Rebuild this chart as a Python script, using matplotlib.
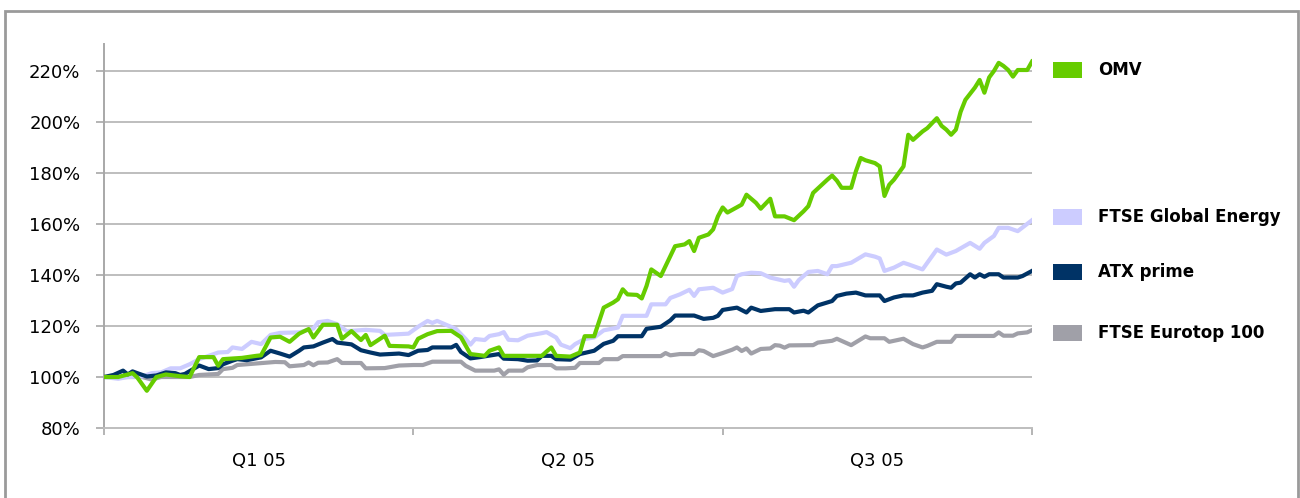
import matplotlib
matplotlib.use("Agg")
import matplotlib.pyplot as plt
from matplotlib.patches import Rectangle
from matplotlib.ticker import FuncFormatter, FixedLocator

# ---- data (trading-day index, value in % of start) ----
series_names = ["OMV", "FTSE Global Energy", "ATX prime", "FTSE Eurotop 100"]
series_colors = ["#66CC00", "#CCCCFF", "#003366", "#A0A0A8"]

omv_x = [0, 3, 6, 7, 9, 11, 13, 16, 18, 20, 23, 24, 25, 29, 32, 33, 35, 37, 39, 41,
         43, 44, 46, 49, 50, 52, 54, 55, 56, 59, 60, 64, 65, 66, 68, 70, 73, 75, 77, 80,
         81, 83, 84, 92, 93, 94, 95, 98, 100, 101, 103, 105, 107, 108, 109, 110, 112, 113, 114, 115,
         116, 117, 118, 120, 122, 123, 124, 125, 127, 128, 129, 130, 131, 134, 135, 137, 138, 140, 141, 143,
         145, 147, 148, 149, 152, 153, 154, 155, 157, 158, 159, 160, 162, 163, 164, 165, 166, 167, 168, 169,
         170, 172, 173, 175, 176, 177, 178, 179, 180, 181, 183, 184, 185, 186, 187, 188, 189, 190, 191, 192,
         194, 195]
omv_y = [100, 100, 101.5, 99.8, 94.6, 100, 101, 100.3, 100, 107.8, 107.8, 104.4, 107, 107.5, 108.3, 108.5, 115.5, 115.8, 113.8, 117,
         118.8, 115.5, 120.5, 120.5, 115, 118, 114.5, 116.5, 112.5, 116.2, 112.2, 112, 111.6, 115, 116.8, 118, 118.1, 115.6, 109, 108.3,
         110.3, 111.6, 108.3, 108.3, 110, 111.6, 108.3, 108, 109.6, 116, 116, 127.2, 129.2, 130.5, 134.4, 132.4, 132.2, 130.8, 135.7, 142.2,
         140.9, 139.6, 143.5, 151.3, 152, 153.3, 149.4, 154.6, 155.9, 157.9, 163, 166.5, 164.5, 167.6, 171.5, 168.3, 166, 169.9, 163, 163,
         161.5, 165, 167, 172.2, 177.4, 179, 177, 174.2, 174.2, 180.7, 185.9, 185, 183.9, 182.6, 171, 175.4, 177.4, 180, 182.6, 195,
         193, 196.3, 197.6, 201.5, 198.5, 197, 195, 197, 204, 208.7, 213.5, 216.5, 211.5, 217.5, 220, 223.2, 222, 220.4, 217.8, 220.4,
         220.4, 223.7]

fge_x = [0, 3, 5, 8, 10, 12, 14, 16, 18, 20, 22, 24, 26, 27, 29, 31, 33, 35, 37, 41,
         44, 45, 47, 49, 51, 55, 58, 59, 64, 66, 68, 69, 70, 72, 74, 76, 77, 78, 80, 81,
         83, 84, 85, 87, 89, 92, 93, 95, 96, 98, 99, 101, 103, 105, 108, 109, 114, 115, 118, 119,
         121, 123, 124, 125, 128, 130, 132, 133, 134, 136, 138, 140, 143, 144, 145, 146, 148, 150, 152, 153,
         154, 157, 160, 162, 163, 164, 166, 168, 169, 172, 175, 177, 179, 182, 184, 185, 187, 188, 190, 192,
         195]
fge_y = [100, 99.3, 100, 100.2, 101.5, 101.8, 103.4, 103.4, 105, 107, 108.3, 109.6, 109.8, 111.6, 111, 113.8, 112.9, 116.5, 117.3, 117.5,
         119, 121.5, 122, 120.7, 118, 118.5, 118.1, 116.5, 117, 119.7, 122, 121.2, 122, 120.4, 118.8, 114.9, 112.7, 114.9, 114.5, 116.1,
         116.8, 117.6, 114.6, 114.4, 116.2, 117.2, 117.6, 115.5, 112.7, 111.3, 112.9, 114.9, 115.5, 118.3, 119.4, 124, 124, 128.5, 128.5, 131,
         132.4, 134.2, 131.8, 134.4, 135, 133.1, 134.5, 139.6, 140.3, 140.9, 140.7, 139, 137.7, 138, 135.4, 138, 141.2, 141.6, 140.3, 143.5,
         143.5, 144.8, 148.1, 147.2, 146.5, 141.6, 142.9, 144.8, 144.2, 142.2, 150, 148, 149.4, 152.6, 150.3, 152.6, 155.3, 158.5, 158.5, 157.2,
         161.5]

atx_x = [0, 2, 4, 5, 6, 7, 9, 11, 13, 15, 16, 17, 20, 22, 24, 25, 27, 28, 30, 33,
         35, 37, 39, 41, 42, 44, 46, 48, 49, 52, 54, 56, 58, 62, 64, 66, 68, 69, 73, 74,
         75, 77, 79, 81, 83, 84, 87, 89, 91, 92, 94, 95, 98, 100, 103, 105, 107, 108, 113, 114,
         117, 119, 120, 124, 126, 128, 129, 130, 133, 135, 136, 138, 141, 144, 145, 147, 148, 150, 153, 154,
         156, 158, 160, 163, 164, 166, 168, 170, 172, 174, 175, 177, 178, 179, 180, 182, 183, 184, 185, 186,
         188, 189, 192, 193, 195]
atx_y = [100, 100.8, 102.5, 101, 102.2, 101.5, 100.2, 100.6, 101.8, 101.5, 100.8, 101.2, 104.5, 103.1, 103.5, 105, 106.4, 107, 106.6, 107.7,
         110.3, 109.2, 108, 110.3, 111.6, 112, 113.5, 114.9, 113.5, 112.8, 110.5, 109.6, 108.8, 109.2, 108.6, 110.3, 110.6, 111.6, 111.6, 112.6,
         109.8, 107.3, 107.8, 108.4, 109, 107.2, 107, 106.4, 106.5, 108.3, 108.3, 107, 106.8, 109, 110.3, 113, 114.2, 116, 116, 118.9,
         119.7, 122.2, 124.1, 124.1, 122.8, 123.2, 124, 126.3, 127.2, 125.3, 127.2, 125.9, 126.6, 126.6, 125.3, 126, 125.3, 128.1, 129.8, 131.8,
         132.7, 133.1, 132, 132, 129.8, 131.2, 132, 132, 133.1, 133.8, 136.4, 135.4, 135, 136.7, 137, 140.3, 139, 140.3, 139.3, 140.3,
         140.3, 139, 139, 139.6, 141.6]

eur_x = [0, 8, 10, 12, 18, 20, 24, 25, 27, 28, 32, 36, 38, 39, 42, 43, 44, 45, 47, 49,
         50, 54, 55, 59, 62, 65, 67, 69, 75, 76, 78, 82, 83, 84, 85, 88, 89, 91, 94, 95,
         97, 99, 100, 104, 105, 108, 109, 117, 118, 119, 121, 124, 125, 126, 128, 130, 132, 133, 134, 135,
         136, 138, 140, 141, 142, 143, 144, 149, 150, 153, 154, 157, 160, 161, 164, 165, 168, 170, 172, 173,
         175, 178, 179, 187, 188, 189, 191, 192, 194, 195]
eur_y = [100, 100, 99, 100, 100, 100.8, 101.2, 103.1, 103.6, 104.7, 105.3, 105.9, 105.8, 104.2, 104.7, 105.7, 104.6, 105.6, 105.7, 107,
         105.5, 105.5, 103.4, 103.5, 104.5, 104.7, 104.7, 106, 106, 104.4, 102.5, 102.5, 103, 100.9, 102.5, 102.5, 103.8, 104.7, 104.7, 103.4,
         103.4, 103.6, 105.5, 105.5, 107, 107, 108.2, 108.2, 109.4, 108.5, 109, 109, 110.5, 110.2, 108.2, 109.4, 110.7, 111.6, 110.2, 111.2,
         109.2, 111, 111.2, 112.5, 112.3, 111.5, 112.4, 112.5, 113.5, 114.2, 115, 112.5, 115.9, 115.2, 115.2, 113.8, 115, 112.9, 111.6, 112.2,
         113.8, 113.8, 116.1, 116.1, 117.5, 116.2, 116.2, 117.1, 117.5, 118.4]

quarter_labels = ["Q1 05", "Q2 05", "Q3 05"]
quarter_bounds = [0, 65, 130, 195]
y_ticks = [80, 100, 120, 140, 160, 180, 200, 220]

# ---- figure ----
W, H = 1300, 498
fig = plt.figure(figsize=(W / 100, H / 100), dpi=100)
plt.rcParams['font.family'] = ['DejaVu Sans']

ax = fig.add_axes([104 / W, (H - 428) / H, (1032 - 104) / W, (428 - 44) / H])

grid_c = "#BEBEBE"
for yv in y_ticks[1:]:
    ax.axhline(yv, color=grid_c, lw=1.4, zorder=1)

xs = [eur_x, fge_x, atx_x, omv_x]
ys = [eur_y, fge_y, atx_y, omv_y]
cols = [series_colors[3], series_colors[1], series_colors[2], series_colors[0]]
for i, (xx, yy, cc) in enumerate(zip(xs, ys, cols)):
    ax.plot(xx, yy, color=cc, lw=3.0, solid_joinstyle="round", zorder=3 + i)

ax.set_xlim(quarter_bounds[0], quarter_bounds[-1])
ax.set_ylim(80, 230.6)

for s in ["top", "right"]:
    ax.spines[s].set_visible(False)
ax.spines["left"].set_color("#A8A8A8")
ax.spines["bottom"].set_color(grid_c)
ax.spines["left"].set_linewidth(1.4)
ax.spines["bottom"].set_linewidth(1.4)

ax.set_yticks(y_ticks)
ax.yaxis.set_major_formatter(FuncFormatter(lambda v, p: f"{v:.0f}%"))
ax.tick_params(axis="y", length=6, width=1.2, color="#A8A8A8", labelsize=13,
               pad=11, labelcolor="#000000")

ax.xaxis.set_major_locator(FixedLocator(quarter_bounds))
ax.xaxis.set_major_formatter(FuncFormatter(lambda v, p: ""))
centers = [(quarter_bounds[i] + quarter_bounds[i + 1]) / 2 for i in range(3)]
ax.xaxis.set_minor_locator(FixedLocator(centers))
ax.set_xticklabels(quarter_labels, minor=True)
ax.tick_params(axis="x", which="major", length=5, width=1.2, color="#A8A8A8")
ax.tick_params(axis="x", which="minor", length=0, labelsize=13, pad=17)

# ---- legend (manual) ----
leg_y = [70, 217, 272, 333]
leg_order = [0, 1, 2, 3]
for k, yy in zip(leg_order, leg_y):
    fig.add_artist(Rectangle((1053 / W, 1 - (yy + 8) / H), 29 / W, 16 / H,
                             transform=fig.transFigure, color=series_colors[k],
                             lw=0))
    fig.text(1098 / W, 1 - yy / H, series_names[k], fontsize=12, fontweight="bold",
             va="center", ha="left", color="#000000")

# outer frame
fig.add_artist(Rectangle((5 / W, -0.1), (1298 - 5) / W, 1 - 11 / H + 0.1,
                         transform=fig.transFigure, fill=False,
                         edgecolor="#9A9A9A", lw=2))

fig.savefig("out.png", dpi=100)
